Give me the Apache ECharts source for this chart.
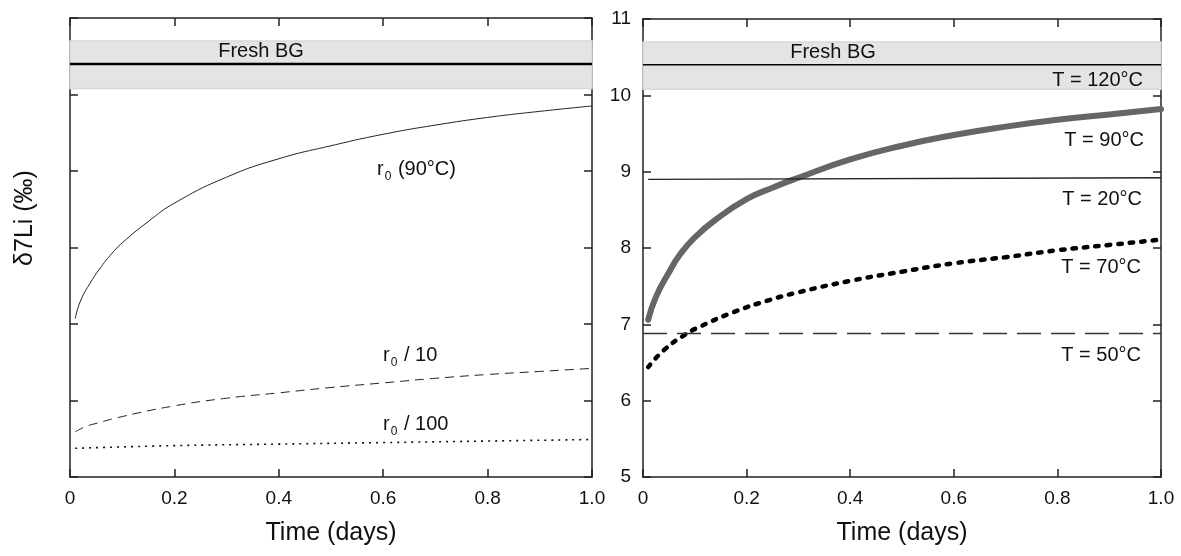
<!DOCTYPE html>
<html>
<head>
<meta charset="utf-8">
<script src="https://cdn.jsdelivr.net/npm/echarts@6/dist/echarts.min.js"></script>
<style>
  html, body { margin: 0; padding: 0; background: #fff; }
  #chart { width: 1181px; height: 556px; }
</style>
</head>
<body>
<div id="chart"></div>
<script>
// δ7Li vs time, two panels (rate scaling at 90°C / temperature)
const xTicks = [0, 0.2, 0.4, 0.6, 0.8, 1.0];
const yTicks = [5, 6, 7, 8, 9, 10, 11];
const freshBG = 10.4;
const freshBand = [10.08, 10.7];

// left panel
const tR0 = [0.01, 0.02, 0.04, 0.06, 0.08, 0.1, 0.15, 0.2, 0.3, 0.4, 0.5, 0.6, 0.7, 0.8, 0.9, 1.0];
const r0 = [7.07, 7.3, 7.55, 7.75, 7.92, 8.06, 8.34, 8.58, 8.92, 9.16, 9.33, 9.48, 9.6, 9.7, 9.78, 9.85];
const tR10 = [0.01, 0.03, 0.05, 0.1, 0.2, 0.3, 0.4, 0.5, 0.6, 0.7, 0.8, 0.9, 1.0];
const r0div10 = [5.59, 5.66, 5.7, 5.79, 5.93, 6.03, 6.1, 6.17, 6.23, 6.29, 6.34, 6.38, 6.42];
const tR100 = [0.01, 0.2, 0.4, 0.6, 0.8, 1.0];
const r0div100 = [5.375, 5.41, 5.43, 5.45, 5.47, 5.49];

// right panel
const t90 = [0.01, 0.025, 0.05, 0.073, 0.1, 0.14, 0.2, 0.25, 0.3, 0.4, 0.5, 0.6, 0.7, 0.8, 0.9, 1.0];
const T90 = [7.06, 7.36, 7.68, 7.93, 8.14, 8.37, 8.64, 8.79, 8.92, 9.16, 9.34, 9.48, 9.59, 9.68, 9.75, 9.82];
const t70 = [0.01, 0.04, 0.08, 0.11, 0.175, 0.24, 0.3, 0.4, 0.5, 0.6, 0.7, 0.8, 0.9, 1.0];
const T70 = [6.44, 6.66, 6.86, 6.97, 7.16, 7.31, 7.42, 7.57, 7.69, 7.8, 7.88, 7.97, 8.04, 8.11];
const t20 = [0.01, 1.0];
const T20 = [8.9, 8.92];
const t50 = [0, 1.0];
const T50 = [6.88, 6.88];

const zip = (xs, ys) => xs.map((x, i) => [x, ys[i]]);
const xMin = xTicks[0], xMax = xTicks[xTicks.length - 1];
const yMin = yTicks[0], yMax = yTicks[yTicks.length - 1];

const FONT = 'Liberation Sans, Arial, sans-serif';
const axisLine = () => ({ show: true, onZero: false, lineStyle: { color: '#222', width: 1.5 } });
const tick = () => ({ show: true, inside: true, length: 8, lineStyle: { color: '#222', width: 1.5 } });

function xAx(grid, pos, labels) {
  return {
    type: 'value', gridIndex: grid, position: pos,
    min: xMin, max: xMax, interval: 0.2,
    axisLine: axisLine(), axisTick: tick(), splitLine: { show: false },
    axisLabel: {
      show: labels, margin: 12, fontSize: 19, color: '#111', fontFamily: FONT,
      formatter: v => v === 0 ? '0' : v.toFixed(1)
    },
    name: labels ? 'Time (days)' : '', nameLocation: 'middle', nameGap: 44,
    nameTextStyle: { fontSize: 25, color: '#111', fontFamily: FONT }
  };
}
function yAx(grid, pos, labels) {
  return {
    type: 'value', gridIndex: grid, position: pos,
    min: yMin, max: yMax, interval: 1,
    axisLine: axisLine(), axisTick: tick(), splitLine: { show: false },
    axisLabel: { show: labels, margin: 12, fontSize: 19, color: '#111', fontFamily: FONT }
  };
}

function line(xi, yi, data, style, extra) {
  return Object.assign({
    type: 'line', xAxisIndex: xi, yAxisIndex: yi, data,
    showSymbol: false, smooth: 0.5, silent: true,
    lineStyle: style
  }, extra || {});
}

function bandSeries(xi, yi, width) {
  return line(xi, yi, [[xMin, freshBG], [xMax, freshBG]],
    { color: '#000', width }, {
      z: 3, smooth: false,
      markArea: {
        silent: true,
        itemStyle: { color: '#e4e4e4', borderColor: '#d8d8d8', borderWidth: 1.5 },
        data: [[{ yAxis: freshBand[0] }, { yAxis: freshBand[1] }]]
      }
    });
}

function txt(x, y, text, align, size) {
  return {
    type: 'text', x, y, z: 50,
    style: {
      text, fontSize: size || 20, fontFamily: FONT, fill: '#111',
      textAlign: align || 'center', textVerticalAlign: 'middle'
    }
  };
}
function subTxt(x, y, rest) {
  return {
    type: 'text', x, y, z: 50,
    style: {
      text: '{a|r}{s|0}{a|' + rest + '}',
      fontFamily: FONT, fill: '#111', textAlign: 'left', textVerticalAlign: 'middle',
      rich: {
        a: { fontSize: 20, lineHeight: 28, fontFamily: FONT, color: '#111' },
        s: { fontSize: 12, lineHeight: 12, verticalAlign: 'bottom', fontFamily: FONT, color: '#111', padding: [0, 1, 0, 1] }
      }
    }
  };
}

const chart = echarts.init(document.getElementById('chart'));
chart.setOption({
  animation: false,
  backgroundColor: '#fff',
  grid: [
    { left: 70, right: 589, top: 18, bottom: 79 },
    { left: 643, right: 20, top: 19, bottom: 79 }
  ],
  xAxis: [xAx(0, 'bottom', true), xAx(0, 'top', false), xAx(1, 'bottom', true), xAx(1, 'top', false)],
  yAxis: [yAx(0, 'left', false), yAx(0, 'right', false), yAx(1, 'left', true), yAx(1, 'right', false)],
  series: [
    bandSeries(0, 0, 2.5),
    line(0, 0, zip(tR0, r0), { color: '#222', width: 1 }),
    line(0, 0, zip(tR10, r0div10), { color: '#222', width: 1, type: [9, 6] }),
    line(0, 0, zip(tR100, r0div100), { color: '#111', width: 1.6, type: [2, 5] }),

    bandSeries(2, 2, 1.5),
    line(2, 2, zip(t90, T90), { color: '#666', width: 6, cap: 'round' }),
    line(2, 2, zip(t20, T20), { color: '#222', width: 1.3 }, { smooth: false }),
    line(2, 2, zip(t70, T70), { color: '#000', width: 4.5, type: [3.5, 8], cap: 'round' }),
    line(2, 2, zip(t50, T50), { color: '#333', width: 1.3, type: [24, 10] }, { smooth: false })
  ],
  graphic: [
    {
      type: 'text', x: 25, y: 218, rotation: Math.PI / 2, z: 50,
      style: { text: 'δ7Li (‰)', fontSize: 25, fontFamily: FONT, fill: '#111', textAlign: 'center', textVerticalAlign: 'middle' }
    },
    txt(261, 51, 'Fresh BG'),
    subTxt(377, 169, ' (90°C)'),
    subTxt(383, 355, ' / 10'),
    subTxt(383, 424, ' / 100'),
    txt(833, 52, 'Fresh BG'),
    txt(1143, 80, 'T = 120°C', 'right'),
    txt(1144, 140, 'T = 90°C', 'right'),
    txt(1142, 199, 'T = 20°C', 'right'),
    txt(1141, 267, 'T = 70°C', 'right'),
    txt(1141, 355, 'T = 50°C', 'right')
  ]
});
</script>
</body>
</html>
